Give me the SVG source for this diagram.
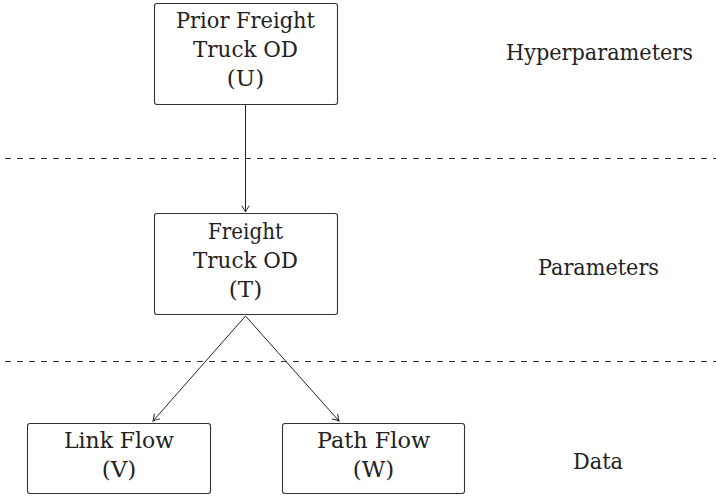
<svg xmlns="http://www.w3.org/2000/svg" width="716" height="496" viewBox="0 0 716 496">
  <style>
    .box { fill: #ffffff; stroke: #333333; stroke-width: 1.1; }
    .lbl { font-family: 'DejaVu Serif', serif; font-size: 23px; fill: #222222; text-anchor: middle; }
    .edge { fill: none; stroke: #222222; stroke-width: 1; }
    .sep { fill: none; stroke: #333333; stroke-width: 1; stroke-dasharray: 6 6; }
  </style>
  <defs>
    <marker id="tip" viewBox="-8 -5 10 10" refX="0" refY="0" markerWidth="10" markerHeight="10" markerUnits="userSpaceOnUse" orient="auto">
      <path d="M-6,-3.6 Q-2,-0.8 0,0 Q-2,0.8 -6,3.6" fill="none" stroke="#222222" stroke-width="1" stroke-linecap="round"/>
    </marker>
  </defs>
  <rect width="716" height="496" fill="#ffffff"/>

  <!-- level separators -->
  <g id="separators">
    <line class="sep" x1="5" y1="158.5" x2="716" y2="158.5"/>
    <line class="sep" x1="5" y1="361.5" x2="716" y2="361.5"/>
  </g>

  <!-- connectors -->
  <g id="connectors">
    <line class="edge" x1="245.5" y1="105" x2="245.5" y2="212" marker-end="url(#tip)"/>
    <line class="edge" x1="245.5" y1="316" x2="153" y2="421" marker-end="url(#tip)"/>
    <line class="edge" x1="245.5" y1="316" x2="339" y2="421" marker-end="url(#tip)"/>
  </g>

  <g id="prior">
    <rect class="box" x="154.5" y="3.5" width="183" height="101" rx="2.5"/>
    <text class="lbl" x="245.5" y="28" textLength="139" lengthAdjust="spacingAndGlyphs">Prior Freight</text>
    <text class="lbl" x="245.5" y="57" textLength="105" lengthAdjust="spacingAndGlyphs">Truck OD</text>
    <text class="lbl" x="245.5" y="86">(U)</text>
  </g>

  <g id="freight">
    <rect class="box" x="154.5" y="213.5" width="183" height="101" rx="2.5"/>
    <text class="lbl" x="245.5" y="239" textLength="75" lengthAdjust="spacingAndGlyphs">Freight</text>
    <text class="lbl" x="245.5" y="268" textLength="105" lengthAdjust="spacingAndGlyphs">Truck OD</text>
    <text class="lbl" x="245.5" y="297">(T)</text>
  </g>

  <g id="link">
    <rect class="box" x="27.5" y="423.5" width="183" height="70" rx="2.5"/>
    <text class="lbl" x="119" y="448" textLength="110" lengthAdjust="spacingAndGlyphs">Link Flow</text>
    <text class="lbl" x="119" y="477">(V)</text>
  </g>

  <g id="path">
    <rect class="box" x="282.5" y="423.5" width="182" height="70" rx="2.5"/>
    <text class="lbl" x="373.5" y="448" textLength="113" lengthAdjust="spacingAndGlyphs">Path Flow</text>
    <text class="lbl" x="373.5" y="477">(W)</text>
  </g>

  <!-- level labels -->
  <g id="levels">
    <text class="lbl" x="599.5" y="60" textLength="187" lengthAdjust="spacingAndGlyphs">Hyperparameters</text>
    <text class="lbl" x="598.5" y="275" textLength="121" lengthAdjust="spacingAndGlyphs">Parameters</text>
    <text class="lbl" x="598" y="469" textLength="50" lengthAdjust="spacingAndGlyphs">Data</text>
  </g>
</svg>
